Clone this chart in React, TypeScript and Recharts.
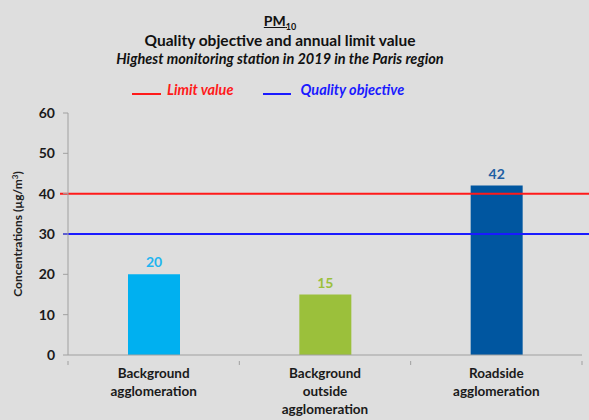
import React from 'react';
import { BarChart, Bar, XAxis, YAxis, Cell, LabelList, ReferenceLine } from 'recharts';

const categories = ['Background agglomeration', 'Background outside agglomeration', 'Roadside agglomeration'];
const tickLines = [['Background', 'agglomeration'], ['Background', 'outside', 'agglomeration'], ['Roadside', 'agglomeration']];
const concentrations = [20, 15, 42];
const limitValue = 40;
const qualityObjective = 30;
const yTicks = [0, 10, 20, 30, 40, 50, 60];

const barColors = ['#00b0f0', '#9bc03b', '#0056a0'];
const labelColors = ['#1fb5f0', '#9bc03b', '#1f5fa3'];
const FONT = 'Lato, "Open Sans", sans-serif';
const BG = '#dedede';

const data = categories.map((name, i) => ({ name, value: concentrations[i] }));

const W = 589;
const H = 420;
const margin = { top: 113, right: 7, bottom: 35, left: 8 };
const band = (W - 68 - margin.right) / categories.length;

const CategoryTick = (props: any) => {
  const { x, y, payload, index } = props;
  const lines = tickLines[index] ?? [payload.value];
  return (
    <g>
      <line x1={x + band / 2} y1={y - 8} x2={x + band / 2} y2={y - 4} stroke="#a0a0a0" />
      {index === 0 && <line x1={x - band / 2} y1={y - 8} x2={x - band / 2} y2={y - 4} stroke="#a0a0a0" />}
      <text x={x} y={y + 9} textAnchor="middle" fontFamily={FONT} fontWeight={700} fontSize={13.5} fill="#1a1a1a">
        {lines.map((l: string, i: number) => (
          <tspan key={i} x={x} dy={i === 0 ? 0 : 18}>{l}</tspan>
        ))}
      </text>
    </g>
  );
};

const ValueLabel = (props: any) => {
  const { x, y, width, value, index } = props;
  return (
    <text x={x + width / 2} y={y - 7} textAnchor="middle" fontFamily={FONT} fontWeight={700} fontSize={14} fill={labelColors[index]}>
      {value}
    </text>
  );
};

const wideLine = (extendLeft: number) => (props: any) => (
  <line x1={props.x1 - extendLeft} y1={props.y1} x2={W} y2={props.y2} stroke={props.stroke} strokeWidth={2} />
);

export default function App() {
  return (
    <div style={{ position: 'fixed', left: 0, top: 0, width: W, height: H, background: BG, fontFamily: FONT }}>
      <div style={{ position: 'absolute', top: 10, left: 0, width: 560, textAlign: 'center', color: '#111' }}>
        <div style={{ fontSize: 14, fontWeight: 700, height: 21, lineHeight: '21px', overflow: 'visible' }}>
          <span style={{ textDecoration: 'underline' }}>
            PM<span style={{ fontSize: 9, position: 'relative', top: 4 }}>10</span>
          </span>
        </div>
        <div style={{ fontSize: 15.5, fontWeight: 700, lineHeight: '19px' }}>Quality objective and annual limit value</div>
        <div style={{ fontSize: 14.5, fontWeight: 700, fontStyle: 'italic', lineHeight: '18px' }}>
          Highest monitoring station in 2019 in the Paris region
        </div>
      </div>
      <div style={{ position: 'absolute', top: 81, left: 132, display: 'flex', alignItems: 'center', fontSize: 14.5, fontWeight: 700, fontStyle: 'italic' }}>
        <span style={{ display: 'inline-block', width: 29, height: 2, background: '#ff1a1a', marginRight: 6, marginTop: 8 }} />
        <span style={{ color: '#ff1a1a' }}>Limit value</span>
        <span style={{ display: 'inline-block', width: 28, height: 2, background: '#1a1aff', marginLeft: 30, marginRight: 9, marginTop: 8 }} />
        <span style={{ color: '#1a1aff' }}>Quality objective</span>
      </div>
      <div
        style={{
          position: 'absolute', left: 18, top: 234, transform: 'translate(-50%, -50%) rotate(-90deg)',
          whiteSpace: 'nowrap', fontSize: 12, fontWeight: 700, color: '#222', lineHeight: '14px',
        }}
      >
        Concentrations (µg/m<span style={{ fontSize: 8, position: 'relative', top: -4 }}>3</span>)
      </div>
      <div style={{ position: 'absolute', left: 0, top: 0 }}>
        <BarChart width={W} height={H} data={data} margin={margin}>
          <XAxis
            dataKey="name"
            interval={0}
            height={30}
            axisLine={{ stroke: '#a0a0a0' }}
            tickLine={false}
            tick={<CategoryTick />}
            tickMargin={8}
          />
          <YAxis
            domain={[0, 60]}
            ticks={yTicks}
            interval={0}
            width={60}
            axisLine={{ stroke: '#a0a0a0' }}
            tickLine={{ stroke: '#a0a0a0' }}
            tickSize={5}
            tickMargin={8}
            tick={{ fill: '#1a1a1a', fontSize: 14, fontWeight: 700, fontFamily: FONT }}
          />
          <ReferenceLine y={limitValue} stroke="#ff1a1a" shape={wideLine(8)} />
          <ReferenceLine y={qualityObjective} stroke="#1a1aff" shape={wideLine(5)} />
          <Bar dataKey="value" barSize={52} isAnimationActive={false}>
            {data.map((d, i) => (
              <Cell key={d.name} fill={barColors[i]} />
            ))}
            <LabelList dataKey="value" content={<ValueLabel />} />
          </Bar>
        </BarChart>
      </div>
    </div>
  );
}
